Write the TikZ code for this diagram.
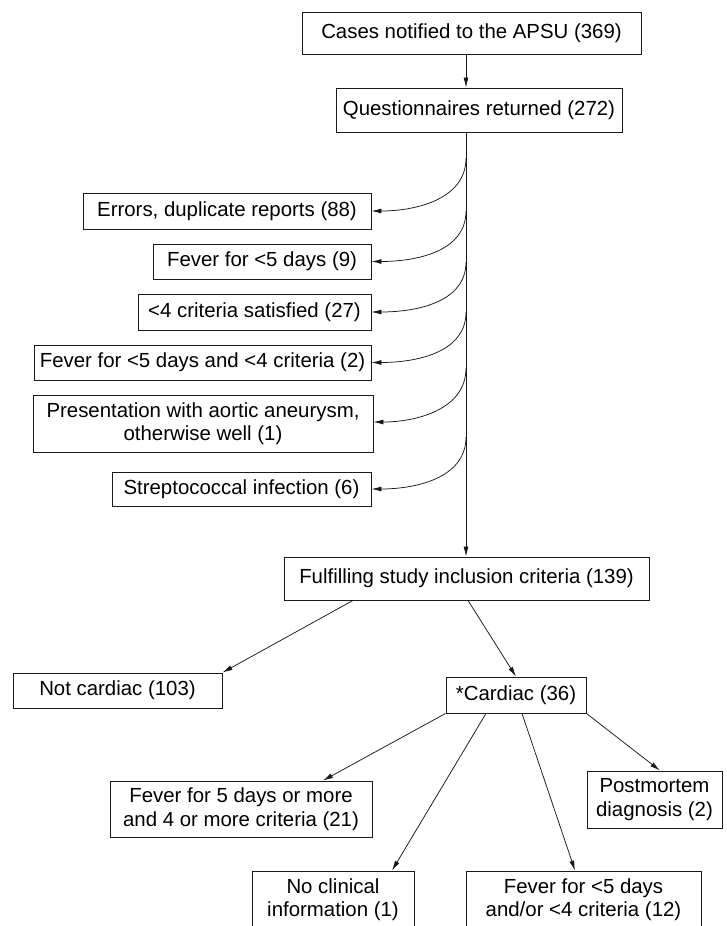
\documentclass[tikz,border=0pt]{standalone}
\usepackage{fontspec}
\setmainfont{Liberation Sans}
\usetikzlibrary{arrows.meta}
\tikzset{
  box/.style={draw=black!90, line width=0.9pt, inner sep=0pt, align=center,
    font=\fontsize{20.4}{23.5}\selectfont},
  conn/.style={draw=black!90, line width=0.75pt, -{Latex[length=10pt,width=5pt]}},
}
\begin{document}
\begin{tikzpicture}[x=1pt,y=-1pt]
\useasboundingbox (0,0) rectangle (726,926);
\clip (0,0) rectangle (726,926);
\fill[white] (0,0) rectangle (726,926);

\node[box, minimum width=339pt, minimum height=42pt] (cases) at (471.5,33) {Cases notified to the APSU (369)};
\node[box, minimum width=286pt, minimum height=44pt] (quest) at (479,110) {Questionnaires returned (272)};

\node[box, minimum width=288pt, minimum height=36pt] (err) at (227,211) {Errors, duplicate reports (88)};
\node[box, minimum width=218pt, minimum height=35pt] (f9) at (262,261.5) {Fever for <5 days (9)};
\node[box, minimum width=233pt, minimum height=36pt] (c27) at (254.5,312) {<4 criteria satisfied (27)};
\node[box, minimum width=337pt, minimum height=35pt] (f2) at (202.5,362.5) {Fever for <5 days and <4 criteria (2)};
\node[box, minimum width=340pt, minimum height=57pt] (pres) at (203,423.5) {Presentation with aortic aneurysm,\\otherwise well (1)};
\node[box, minimum width=259pt, minimum height=34pt] (strep) at (241.5,489) {Streptococcal infection (6)};

\node[box, minimum width=365pt, minimum height=43pt] (fulf) at (466.5,578.5) {Fulfilling study inclusion criteria (139)};
\node[box, minimum width=209pt, minimum height=35pt] (notc) at (117.5,690.5) {Not cardiac (103)};
\node[box, minimum width=140pt, minimum height=36pt] (card) at (516,695) {*Cardiac (36)};

\node[box, minimum width=262pt, minimum height=56pt] (f21) at (241,809) {Fever for 5 days or more\\and 4 or more criteria (21)};
\node[box, minimum width=135pt, minimum height=57pt] (post) at (654.5,799.5) {Postmortem\\diagnosis (2)};
\node[box, minimum width=162pt, minimum height=57pt] (nocl) at (333,899.5) {No clinical\\information (1)};
\node[box, minimum width=235pt, minimum height=57pt] (f12) at (583.5,899.5) {Fever for <5 days\\and/or <4 criteria (12)};

% trunk
\coordinate (t1) at (466,158);
\coordinate (t2) at (466,211);
\coordinate (t3) at (466,262);
\coordinate (t4) at (466,312);
\coordinate (t5) at (466,368);
\coordinate (t6) at (466,437);

\draw[conn] (cases.south -| t1) -- (quest.north -| t1);
\draw[conn] (quest.south -| t1) -- (fulf.north -| t1);

\draw[conn] (t1) to[out=-90,in=0] (err.east);
\draw[conn] (t2) to[out=-90,in=0] (f9.east);
\draw[conn] (t3) to[out=-90,in=0] (c27.east);
\draw[conn] (t4) to[out=-90,in=0] (f2.east);
\draw[conn] (t5) to[out=-90,in=0] ([yshift=1.5pt]pres.east);
\draw[conn] (t6) to[out=-90,in=0] (strep.east);

\draw[conn] ([xshift=-113.5pt]fulf.south) -- (notc.north east);
\draw[conn] ([xshift=1.5pt]fulf.south) -- (card.north);

\draw[conn] (card.south west) -- ([xshift=82pt]f21.north);
\draw[conn] ([xshift=-30pt]card.south) -- ([xshift=59pt]nocl.north);
\draw[conn] ([xshift=6pt]card.south) -- ([xshift=-8.5pt]f12.north);
\draw[conn] (card.south east) -- ([xshift=5.5pt]post.north);
\end{tikzpicture}
\end{document}
